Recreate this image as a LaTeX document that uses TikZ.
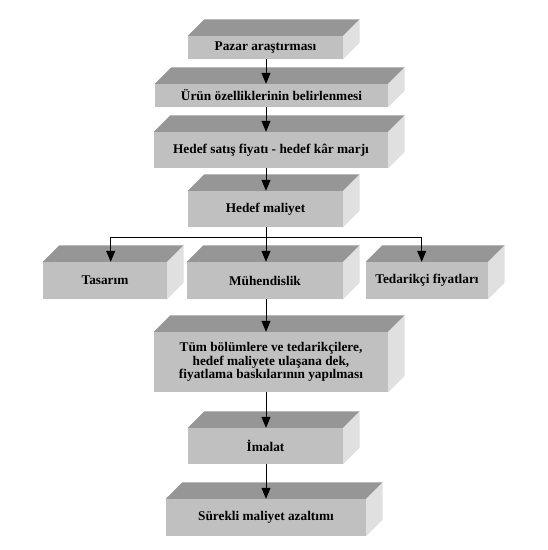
\documentclass[tikz,border=0pt]{standalone}
\usepackage{fontspec}
\setmainfont{Liberation Serif}
\newfontfamily\boxfont{Liberation Serif}
\usetikzlibrary{arrows.meta}
\definecolor{frontgray}{RGB}{192,192,192}
\definecolor{topgray}{RGB}{150,150,150}
\definecolor{sidegray}{RGB}{224,224,224}
\def\cdepth{16.5}
\newcommand\cubefaces[1]{%
  \fill[topgray] (#1.north west) -- (#1.north east) -- ++(\cdepth,-\cdepth)
     -- ([shift={(\cdepth,-\cdepth)}]#1.north west) -- cycle;
  \fill[sidegray] (#1.north east) -- (#1.south east) -- ++(\cdepth,-\cdepth)
     -- ([shift={(\cdepth,-\cdepth)}]#1.north east) -- cycle;}
\tikzset{
  cubebox/.style={fill=frontgray, draw=none, inner sep=0pt, align=center,
    font=\boxfont\fontsize{13.3}{13.6}\selectfont\bfseries},
  arr/.style={draw=black, line width=1pt, -{Triangle[length=11pt,width=9pt]}},
  conn/.style={draw=black, line width=1pt}
}
\begin{document}
\begin{tikzpicture}[x=1pt,y=-1pt]
\fill[white] (0,0) rectangle (548,550);
\useasboundingbox (0,0) rectangle (548,550);

\node[cubebox, minimum width=155pt, minimum height=23pt] (b1) at (265.5,47.5) {Pazar araştırması};
\node[cubebox, minimum width=233pt, minimum height=23pt] (b2) at (271.5,95.5) {Ürün özelliklerinin belirlenmesi};
\node[cubebox, minimum width=234pt, minimum height=36pt] (b3) at (271,150) {Hedef satış fiyatı - hedef kâr marjı};
\node[cubebox, minimum width=155pt, minimum height=36pt] (b4) at (265.5,209) {Hedef maliyet};
\node[cubebox, minimum width=124pt, minimum height=37pt] (tas) at (105,280.5) {Tasarım};
\node[cubebox, minimum width=156pt, minimum height=37pt] (muh) at (265,280.5) {Mühendislik};
\node[cubebox, minimum width=122pt, minimum height=37pt] (ted) at (427,280.5) {Tedarikçi fiyatları};
\node[cubebox, minimum width=234pt, minimum height=60pt] (b5) at (271,362) {Tüm bölümlere ve tedarikçilere,\\hedef maliyete ulaşana dek,\\fiyatlama baskılarının yapılması};
\node[cubebox, minimum width=155pt, minimum height=36pt] (b6) at (265.5,446) {İmalat};
\node[cubebox, minimum width=200pt, minimum height=37pt] (b7) at (266,517.5) {Sürekli maliyet azaltımı};

\cubefaces{b1}\cubefaces{b2}\cubefaces{b3}\cubefaces{b4}
\cubefaces{tas}\cubefaces{muh}\cubefaces{ted}
\cubefaces{b5}\cubefaces{b6}\cubefaces{b7}

\coordinate (tl) at (110.7,237);
\coordinate (tr) at (421.7,237);
\coordinate (jn) at (266,237);

\draw[arr] (b1.south -| jn) -- (b2.north -| jn);
\draw[arr] (b2.south -| jn) -- (b3.north -| jn);
\draw[arr] (b3.south -| jn) -- (b4.north -| jn);
\draw[conn] (b4.south -| jn) -- (jn);
\draw[conn] (tl) -- (tr);
\draw[arr] (jn) -- (muh.north -| jn);
\draw[arr] (tl) -- (tl |- tas.north);
\draw[arr] (tr) -- (tr |- ted.north);
\draw[arr] (muh.south -| jn) -- (b5.north -| jn);
\draw[arr] (b5.south -| jn) -- (b6.north -| jn);
\draw[arr] (b6.south -| jn) -- (b7.north -| jn);
\end{tikzpicture}
\end{document}
